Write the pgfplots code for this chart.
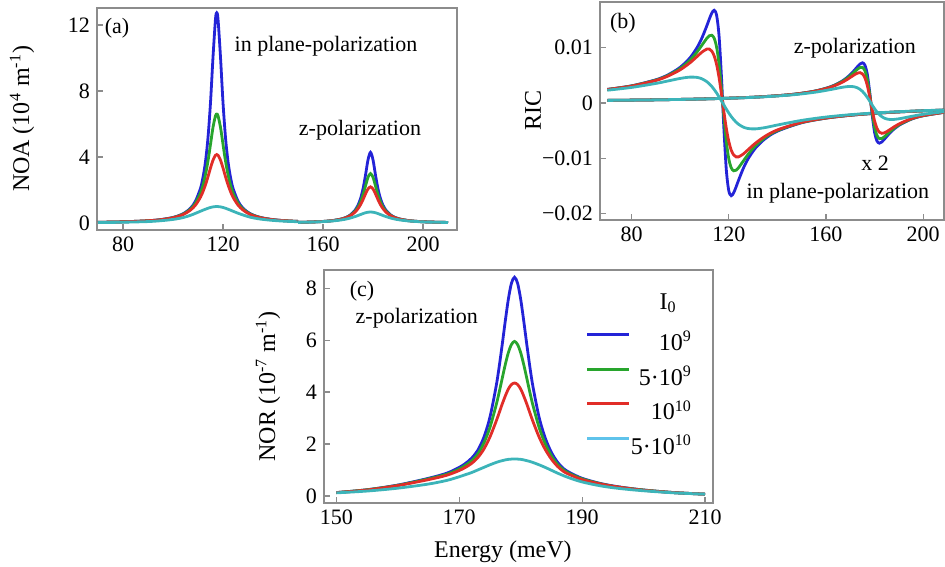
\documentclass[border=0pt]{standalone}
\usepackage{fontspec}
\setmainfont{Liberation Serif}
\usepackage{pgfplots}
\usepackage{pgfplotstable}
\pgfplotsset{compat=1.18}

\definecolor{cb}{RGB}{35,35,215}
\definecolor{cg}{RGB}{40,165,45}
\definecolor{cr}{RGB}{225,45,40}
\definecolor{cc}{RGB}{60,180,185}
\definecolor{cclight}{RGB}{95,195,235}
\definecolor{frame}{RGB}{140,140,140}

% (a) NOA, in-plane peak
\pgfplotstableread{
E b g r c
70 0.047 0.047 0.047 0.030
80 0.076 0.075 0.075 0.050
90 0.14 0.14 0.14 0.09
95 0.21 0.20 0.20 0.14
100 0.34 0.33 0.32 0.22
104 0.56 0.54 0.51 0.33
107 0.90 0.85 0.79 0.47
109 1.33 1.21 1.09 0.59
111 2.11 1.83 1.57 0.717
112 2.77 2.30 1.91 0.78
113 3.73 2.94 2.32 0.84
114 5.18 3.76 2.81 0.897
115 7.30 4.77 3.34 0.945
116 10.05 5.80 3.81 0.98
117 12.37 6.50 4.11 0.998
117.5 12.74 6.60 4.15 1.0
118 12.37 6.50 4.11 0.998
119 10.05 5.80 3.81 0.98
120 7.30 4.77 3.34 0.945
121 5.18 3.76 2.81 0.897
122 3.73 2.94 2.32 0.84
123 2.77 2.30 1.91 0.78
124 2.11 1.83 1.57 0.717
126 1.33 1.21 1.09 0.597
128 0.90 0.85 0.79 0.49
131 0.56 0.54 0.51 0.35
135 0.34 0.33 0.32 0.24
140 0.21 0.20 0.20 0.16
145 0.14 0.14 0.14 0.11
150 0.10 0.10 0.099 0.08
}\ain
% (a) NOA, z peak
\pgfplotstableread{
E b g r c
150 0.042 0.042 0.042 0.040
155 0.062 0.061 0.061 0.057
160 0.097 0.097 0.095 0.087
164 0.154 0.152 0.149 0.129
167 0.236 0.231 0.224 0.182
169 0.332 0.321 0.309 0.234
171 0.497 0.474 0.448 0.306
173 0.811 0.75 0.687 0.401
174 1.078 0.973 0.870 0.457
175 1.475 1.286 1.111 0.516
176 2.069 1.714 1.417 0.574
177 2.903 2.25 1.765 0.624
178 3.83 2.769 2.069 0.658
179 4.286 3.0 2.195 0.670
180 3.83 2.769 2.069 0.658
181 2.903 2.25 1.765 0.624
182 2.069 1.714 1.417 0.574
183 1.475 1.286 1.111 0.516
184 1.078 0.973 0.870 0.457
185 0.811 0.75 0.687 0.401
187 0.497 0.474 0.448 0.306
189 0.332 0.321 0.309 0.234
191 0.236 0.231 0.224 0.182
194 0.154 0.152 0.149 0.129
198 0.097 0.097 0.095 0.087
203 0.062 0.061 0.061 0.057
210 0.037 0.037 0.037 0.035
}\az
% (b) RIC, in-plane
\pgfplotstableread{
E b g r c
70 0.002462 0.002451 0.002437 0.002315
80 0.003109 0.003086 0.003058 0.002822
90 0.004208 0.004151 0.004082 0.003544
95 0.005103 0.005001 0.00488 0.003994
100 0.006462 0.006253 0.006013 0.00445
104 0.008162 0.00774 0.007274 0.00469
107 0.01008 0.00928 0.008443 0.004633
109 0.01183 0.01051 0.009234 0.004375
111 0.01403 0.01174 0.009769 0.003851
112 0.01522 0.01218 0.009763 0.003468
113 0.01628 0.01228 0.009408 0.002998
114 0.0168 0.01173 0.00853 0.002443
115 0.01589 0.0101 0.006959 0.001809
116 0.01217 0.00703 0.004612 0.001113
117 0.0047 0.00255 0.001622 0.000376
117.5 0 0 0 0
118 -0.0047 -0.00255 -0.001622 -0.000376
119 -0.01217 -0.00703 -0.004612 -0.001113
120 -0.01589 -0.0101 -0.006959 -0.001809
121 -0.0168 -0.01173 -0.00853 -0.002443
122 -0.01628 -0.01228 -0.009408 -0.002998
123 -0.01522 -0.01218 -0.009763 -0.003468
124 -0.01403 -0.01174 -0.009769 -0.003851
126 -0.01183 -0.01051 -0.009234 -0.004375
128 -0.01008 -0.00928 -0.008443 -0.004633
131 -0.008162 -0.00774 -0.007274 -0.00469
135 -0.006462 -0.006253 -0.006013 -0.00445
140 -0.005103 -0.005001 -0.00488 -0.003994
150 -0.003577 -0.003542 -0.003499 -0.003152
160 -0.002748 -0.002733 -0.002713 -0.002547
170 -0.00223 -0.002222 -0.002211 -0.00212
180 -0.001876 -0.001871 -0.001864 -0.001809
190 -0.001618 -0.001615 -0.001611 -0.001575
200 -0.001423 -0.001421 -0.001418 -0.001393
210 -0.00127 -0.00127 -0.001266 -0.001249
}\bin
% (b) RIC, z (x 2)
\pgfplotstableread{
E b g r c
70 0.00047 0.000469 0.000469 0.000467
90 0.000575 0.000575 0.000575 0.000571
110 0.000743 0.000742 0.000741 0.000733
130 0.001046 0.001045 0.001042 0.00102
145 0.001506 0.001502 0.001494 0.00143
155 0.002123 0.002111 0.002089 0.001919
162 0.002958 0.002925 0.002865 0.002443
167 0.004059 0.003972 0.003815 0.002868
170 0.00513 0.004946 0.004624 0.003
172 0.006083 0.00575 0.0052 0.002895
173 0.0066 0.006145 0.00542 0.002737
174 0.007062 0.006438 0.005497 0.002481
175 0.007286 0.006456 0.005289 0.002112
176 0.006892 0.005889 0.004595 0.001624
177 0.005276 0.004334 0.003221 0.001027
178 0.00204 0.001629 0.001172 0.000352
178.5 0 0 0 0
179 -0.00204 -0.001629 -0.001172 -0.000352
180 -0.005276 -0.004334 -0.003221 -0.001027
181 -0.006892 -0.005889 -0.004595 -0.001624
182 -0.007286 -0.006456 -0.005289 -0.002112
183 -0.007062 -0.006438 -0.005497 -0.002481
184 -0.0066 -0.006145 -0.00542 -0.002737
185 -0.006083 -0.00575 -0.0052 -0.002895
187 -0.00513 -0.004946 -0.004624 -0.003
190 -0.004059 -0.003972 -0.003815 -0.002868
195 -0.002958 -0.002925 -0.002865 -0.002443
200 -0.002311 -0.002296 -0.002267 -0.002051
210 -0.001599 -0.001594 -0.001585 -0.001509
}\bz
% (c) NOR, z-polarization
\pgfplotstableread{
E b g r c
150 0.13 0.13 0.13 0.12
155 0.24 0.24 0.23 0.19
160 0.42 0.41 0.40 0.30
165 0.68 0.66 0.63 0.46
168 0.88 0.84 0.80 0.60
170 1.10 1.04 0.98 0.74
171 1.25 1.18 1.10 0.82
172 1.45 1.35 1.25 0.90
173 1.75 1.61 1.47 1.00
174 2.25 2.03 1.80 1.10
175 3.03 2.64 2.27 1.20
176 4.21 3.49 2.87 1.29
176.5 4.97 3.99 3.20 1.33
177 5.83 4.53 3.54 1.36
177.5 6.74 5.06 3.85 1.39
178 7.58 5.52 4.12 1.41
178.5 8.19 5.83 4.29 1.42
179 8.42 5.95 4.35 1.42
179.5 8.19 5.83 4.29 1.42
180 7.58 5.52 4.12 1.41
180.5 6.74 5.06 3.85 1.39
181 5.83 4.53 3.54 1.36
181.5 4.97 3.99 3.20 1.33
182 4.21 3.49 2.87 1.29
183 3.03 2.64 2.27 1.20
184 2.23 2.01 1.79 1.10
185 1.68 1.55 1.42 0.99
186 1.30 1.22 1.14 0.88
187 1.05 1.00 0.94 0.78
188 0.90 0.86 0.82 0.69
190 0.68 0.66 0.63 0.54
193 0.48 0.47 0.46 0.39
196 0.35 0.34 0.34 0.29
200 0.23 0.23 0.22 0.20
205 0.13 0.13 0.13 0.12
210 0.07 0.07 0.07 0.07
}\ctab

\pgfplotsset{
  panel/.style={
    scale only axis, anchor=south west,
    axis line style={frame, line width=0.9pt},
    tick style={frame, line width=0.6pt},
    tick align=inside, tick pos=left, major tick length=3pt,
    ticklabel style={font=\fontsize{11}{13}\selectfont},
    label style={font=\fontsize{12}{14}\selectfont},
    /pgf/number format/assume math mode=true,
    every axis plot/.append style={smooth, line width=1.4pt, mark=none},
  },
}
\newcommand{\ann}{\fontsize{11}{13}\selectfont}

\begin{document}
\begin{tikzpicture}
\useasboundingbox (0,0) rectangle (472.5pt,283pt);

% (a)
\begin{axis}[panel, at={(48.5pt,168pt)}, width=180pt, height=111pt,
  xmin=69.6, xmax=213.6, ymin=-0.42, ymax=13.03,
  xtick={80,120,160,200}, ytick={0,4,8,12},
  ylabel={NOA (10\textsuperscript{4} m\textsuperscript{-1})},
  ylabel style={at={(axis description cs:-0.208,0.5)}, anchor=center}]
\addplot[cb] table[x=E,y=b]{\ain};
\addplot[cg] table[x=E,y=g]{\ain};
\addplot[cr] table[x=E,y=r]{\ain};
\addplot[cc] table[x=E,y=c]{\ain};
\addplot[cb] table[x=E,y=b]{\az};
\addplot[cg] table[x=E,y=g]{\az};
\addplot[cr] table[x=E,y=r]{\az};
\addplot[cc] table[x=E,y=c]{\az};
\node[font=\ann] at (axis cs:77.6,11.8) {(a)};
\node[font=\ann] at (axis cs:161.2,10.7) {in plane-polarization};
\node[font=\ann] at (axis cs:174.8,5.6) {z-polarization};
\end{axis}

% (b)
\begin{axis}[panel, at={(300pt,173pt)}, width=172pt, height=109pt,
  xmin=67, xmax=208.6, ymin=-0.0212, ymax=0.0183,
  xtick={80,120,160,200}, ytick={-0.02,-0.01,0,0.01},
  yticklabels={−0.02,−0.01,0,0.01}, scaled y ticks=false,
  ylabel={RIC},
  ylabel style={at={(axis description cs:-0.195,0.5)}, anchor=center}]
\addplot[cb] table[x=E,y=b]{\bin};
\addplot[cg] table[x=E,y=g]{\bin};
\addplot[cr] table[x=E,y=r]{\bin};
\addplot[cc] table[x=E,y=c]{\bin};
\addplot[cb] table[x=E,y=b]{\bz};
\addplot[cg] table[x=E,y=g]{\bz};
\addplot[cr] table[x=E,y=r]{\bz};
\addplot[cc] table[x=E,y=c]{\bz};
\node[font=\ann] at (axis cs:76.4,0.01446) {(b)};
\node[font=\ann] at (axis cs:171.9,0.00993) {z-polarization};
\node[font=\ann] at (axis cs:180.2,-0.0109) {x 2};
\node[font=\ann] at (axis cs:164.9,-0.0163) {in plane-polarization};
\end{axis}

% (c)
\begin{axis}[panel, at={(162pt,31.5pt)}, width=194.5pt, height=116.5pt,
  xmin=148, xmax=211.3, ymin=-0.27, ymax=8.7,
  xtick={150,170,190,210}, ytick={0,2,4,6,8},
  xlabel={Energy (meV)},
  xlabel style={at={(axis description cs:0.46,-0.209)}, anchor=center},
  ylabel={NOR (10\textsuperscript{-7} m\textsuperscript{-1})},
  ylabel style={at={(axis description cs:-0.144,0.5)}, anchor=center},
  legend style={at={(axis cs:190.5,6.42)}, anchor=north west, draw=none,
    fill=none, font=\fontsize{12}{14}\selectfont, row sep=5.3pt, inner sep=0pt,
    nodes={inner sep=0pt, text height=10.5pt, text depth=1.5pt}},
  legend cell align=right,
  legend image code/.code={\draw[#1] (0pt,3.5pt) -- (21pt,3.5pt);}]
\addplot[cb, forget plot] table[x=E,y=b]{\ctab};
\addplot[cg, forget plot] table[x=E,y=g]{\ctab};
\addplot[cr, forget plot] table[x=E,y=r]{\ctab};
\addplot[cc, forget plot] table[x=E,y=c]{\ctab};
\addlegendimage{cb, line width=1.6pt}
\addlegendentry{10\textsuperscript{9}}
\addlegendimage{cg, line width=1.6pt}
\addlegendentry{5·10\textsuperscript{9}}
\addlegendimage{cr, line width=1.6pt}
\addlegendentry{10\textsuperscript{10}}
\addlegendimage{cclight, line width=1.6pt}
\addlegendentry{5·10\textsuperscript{10}}
\node[font=\ann] at (axis cs:154.2,7.87) {(c)};
\node[font=\ann] at (axis cs:163.1,6.85) {z-polarization};
\node[font=\fontsize{12}{14}\selectfont] at (axis cs:204,7.42) {I\textsubscript{0}};
\end{axis}
\end{tikzpicture}
\end{document}
